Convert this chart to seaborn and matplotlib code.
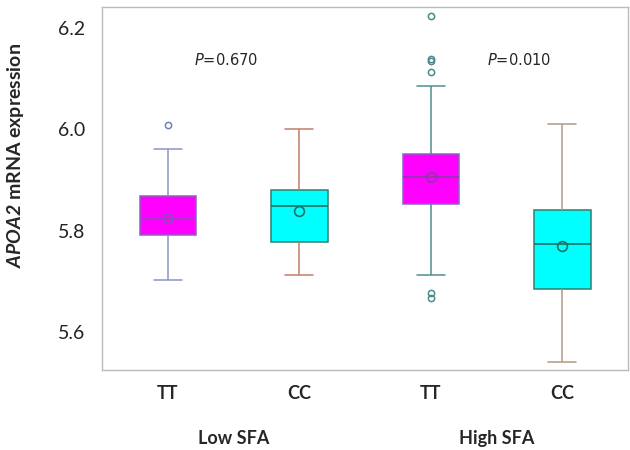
import numpy as np
import pandas as pd
import seaborn as sns
import matplotlib
matplotlib.use("Agg")
import matplotlib.pyplot as plt

# ---- data ----
groups = ["Low SFA TT", "Low SFA CC", "High SFA TT", "High SFA CC"]
tick_labels = ["TT", "CC", "TT", "CC"]
diet_labels = ["Low SFA", "High SFA"]
low_tt = [5.703, 5.791, 5.791, 5.825, 5.825, 5.868, 5.868, 5.962, 6.008]
low_cc = [5.712, 5.778, 5.848, 5.881, 6.001]
high_tt = [5.666, 5.676, 5.712, 5.78, 5.83, 5.853, 5.87, 5.88, 5.89, 5.90,
           5.906, 5.91, 5.92, 5.93, 5.94, 5.951, 6.085, 6.113, 6.135, 6.138, 6.224]
high_cc = [5.541, 5.684, 5.774, 5.841, 6.010]
means = [5.825, 5.839, 5.906, 5.770]
p_values = ["0.670", "0.010"]

data_lists = [low_tt, low_cc, high_tt, high_cc]

# ---- styles ----
fill = ["#ff00ff", "#00ffff", "#ff00ff", "#00ffff"]
edge = ["#8e5fc8", "#2f7f6f", "#8e5fc8", "#2f7f6f"]
whisk = ["#8a94c8", "#c47c6e", "#4f8f8c", "#b09a85"]
med = ["#9448c0", "#1e7060", "#8a3aa8", "#1e7060"]
flier_c = ["#7080c0", "#c47c6e", "#4a8a88", "#b09a85"]

sns.set_style("white")
plt.rcParams["font.family"] = ["Lato", "DejaVu Sans"]
plt.rcParams["mathtext.fontset"] = "custom"
plt.rcParams["mathtext.it"] = "DejaVu Sans:italic"
plt.rcParams["mathtext.bf"] = "Lato:italic:bold"

fig = plt.figure(figsize=(6.3, 4.5), dpi=100)
ax = fig.add_axes([0.162, 0.178, 0.835, 0.806])

for i, (g, vals) in enumerate(zip(groups, data_lists)):
    d = pd.DataFrame({"group": [g] * len(vals), "value": vals})
    sns.boxplot(data=d, x="group", y="value", order=groups, width=0.43,
                saturation=1, linewidth=1.1, ax=ax,
                boxprops=dict(facecolor=fill[i], edgecolor=edge[i]),
                whiskerprops=dict(color=whisk[i]),
                capprops=dict(color=whisk[i]),
                medianprops=dict(color=med[i], linewidth=1.2),
                flierprops=dict(marker="o", markerfacecolor="none",
                                markeredgecolor=flier_c[i], markersize=4.5,
                                markeredgewidth=1.1))

n_before = len(ax.lines)
mean_df = pd.DataFrame({"group": groups, "mean": means})
sns.pointplot(data=mean_df, x="group", y="mean", order=groups, hue="group",
              palette=med, linestyle="none", marker="o", markersize=7,
              markeredgewidth=1.2, errorbar=None, legend=False, ax=ax)
for ln in ax.lines[n_before:]:
    ln.set_markerfacecolor("none")
    ln.set_zorder(5)

ax.set_xlim(-0.5, 3.5)
ax.set_ylim(5.525, 6.241)
ax.set_yticks([5.6, 5.8, 6.0, 6.2])
ax.set_yticklabels(["5.6", "5.8", "6.0", "6.2"], fontsize=14, color="#222222")
ax.set_xticks(range(4))
ax.set_xticklabels(tick_labels, fontsize=13, fontweight="bold")
ax.tick_params(axis="both", length=3, color="#cccccc", width=0.8)
ax.tick_params(axis="x", pad=8)
ax.tick_params(axis="y", pad=9)
ax.set_xlabel("")
ax.set_ylabel(r"$\mathbf{APOA2}$ mRNA expression", fontsize=14,
              fontweight="bold")
ax.yaxis.set_label_coords(-0.145, 0.592)

for s in ax.spines.values():
    s.set_color("#bbbbbb")
    s.set_linewidth(1.0)

ax.text(0.44, 6.136, r"$\mathit{P}$=" + p_values[0],
        family="DejaVu Sans", fontsize=10.5, ha="center", va="center")
ax.text(2.67, 6.136, r"$\mathit{P}$=" + p_values[1],
        family="DejaVu Sans", fontsize=10.5, ha="center", va="center")

for j, lab in enumerate(diet_labels):
    ax.text(0.5 + 2 * j, -0.19, lab, transform=ax.get_xaxis_transform(),
            ha="center", va="center", fontsize=13, fontweight="bold")

fig.savefig("out.png", dpi=100)
